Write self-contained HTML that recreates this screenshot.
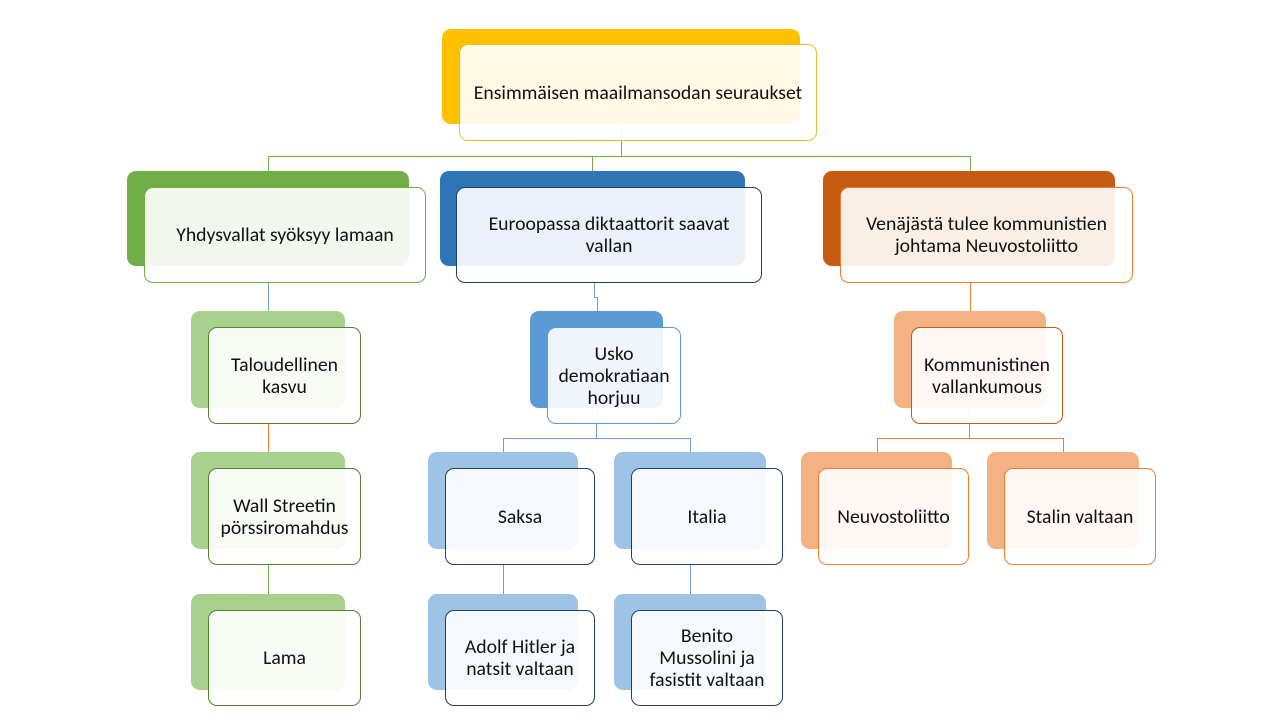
<!DOCTYPE html>
<html><head><meta charset="utf-8"><style>
body{margin:0;width:1280px;height:720px;background:#fff;position:relative;overflow:hidden;font-family:Calibri,Carlito,"Liberation Sans",sans-serif;}
.b{position:absolute;border-radius:9px;}
.f{position:absolute;border-radius:9px;background:rgba(255,255,255,0.9);border:1px solid;box-sizing:border-box;display:flex;align-items:center;justify-content:center;text-align:center;font-size:19.7px;line-height:22px;color:#111;padding:0 20px;}
.l{position:absolute;}
</style></head><body>
<div class="l" style="left:621px;top:124px;width:1px;height:32px;background:#70AD47"></div>
<div class="l" style="left:268px;top:156px;width:703px;height:1px;background:#70AD47"></div>
<div class="l" style="left:268px;top:156px;width:1px;height:16px;background:#70AD47"></div>
<div class="l" style="left:592px;top:156px;width:1px;height:16px;background:#70AD47"></div>
<div class="l" style="left:970px;top:156px;width:1px;height:16px;background:#70AD47"></div>
<div class="l" style="left:268px;top:283px;width:1px;height:30px;background:#6a9fd0"></div>
<div class="l" style="left:268px;top:424px;width:1px;height:30px;background:#ED7D31"></div>
<div class="l" style="left:268px;top:565px;width:1px;height:30px;background:#70AD47"></div>
<div class="l" style="left:594px;top:283px;width:1px;height:14px;background:#6a9fd0"></div>
<div class="l" style="left:594px;top:297px;width:3px;height:1px;background:#6a9fd0"></div>
<div class="l" style="left:597px;top:297px;width:1px;height:16px;background:#6a9fd0"></div>
<div class="l" style="left:596px;top:408px;width:1px;height:30px;background:#6a9fd0"></div>
<div class="l" style="left:503px;top:438px;width:188px;height:1px;background:#6a9fd0"></div>
<div class="l" style="left:503px;top:438px;width:1px;height:16px;background:#6a9fd0"></div>
<div class="l" style="left:690px;top:438px;width:1px;height:16px;background:#6a9fd0"></div>
<div class="l" style="left:503px;top:565px;width:1px;height:30px;background:#6a9fd0"></div>
<div class="l" style="left:690px;top:565px;width:1px;height:30px;background:#6a9fd0"></div>
<div class="l" style="left:970px;top:283px;width:1px;height:30px;background:#ED7D31"></div>
<div class="l" style="left:969px;top:408px;width:1px;height:30px;background:#ED7D31"></div>
<div class="l" style="left:877px;top:438px;width:187px;height:1px;background:#ED7D31"></div>
<div class="l" style="left:877px;top:438px;width:1px;height:16px;background:#ED7D31"></div>
<div class="l" style="left:1063px;top:438px;width:1px;height:16px;background:#ED7D31"></div>

<div class="b" style="left:442px;top:29px;width:358px;height:95px;background:#FFC000"></div>
<div class="f" style="left:459px;top:44px;width:358px;height:97px;border-color:#E0C030;padding:0 4px">Ensimmäisen maailmansodan seuraukset</div>

<div class="b" style="left:127px;top:171px;width:282px;height:95px;background:#70AD47"></div>
<div class="f" style="left:144px;top:187px;width:282px;height:96px;border-color:#70AD47">Yhdysvallat syöksyy lamaan</div>
<div class="b" style="left:440px;top:171px;width:305px;height:95px;background:#2E75B6"></div>
<div class="f" style="left:456px;top:187px;width:306px;height:96px;border-color:#1F3F66;padding:0 20px">Euroopassa diktaattorit saavat<br>vallan</div>
<div class="b" style="left:823px;top:171px;width:292px;height:95px;background:#C55A11"></div>
<div class="f" style="left:840px;top:187px;width:293px;height:96px;border-color:#ED7D31;padding:0 6px">Venäjästä tulee kommunistien<br>johtama Neuvostoliitto</div>

<div class="b" style="left:191px;top:311px;width:154px;height:97px;background:#A9D18E"></div>
<div class="f" style="left:208px;top:327px;width:153px;height:97px;border-color:#548235;padding:0 4px">Taloudellinen<br>kasvu</div>
<div class="b" style="left:530px;top:311px;width:133px;height:97px;background:#5B9BD5"></div>
<div class="f" style="left:547px;top:327px;width:134px;height:97px;border-color:#5B9BD5;padding:0 2px">Usko<br>demokratiaan<br>horjuu</div>
<div class="b" style="left:894px;top:311px;width:152px;height:97px;background:#F4B183"></div>
<div class="f" style="left:911px;top:327px;width:152px;height:97px;border-color:#C55A11;padding:0 2px">Kommunistinen<br>vallankumous</div>

<div class="b" style="left:191px;top:452px;width:154px;height:97px;background:#A9D18E"></div>
<div class="f" style="left:208px;top:468px;width:153px;height:97px;border-color:#548235;padding:0 2px">Wall Streetin<br>pörssiromahdus</div>
<div class="b" style="left:428px;top:452px;width:150px;height:97px;background:#9DC3E6"></div>
<div class="f" style="left:445px;top:468px;width:150px;height:97px;border-color:#1F3F66">Saksa</div>
<div class="b" style="left:614px;top:452px;width:152px;height:97px;background:#9DC3E6"></div>
<div class="f" style="left:631px;top:468px;width:152px;height:97px;border-color:#1F3F66">Italia</div>
<div class="b" style="left:801px;top:452px;width:151px;height:97px;background:#F4B183"></div>
<div class="f" style="left:818px;top:468px;width:151px;height:97px;border-color:#ED7D31;padding:0 2px">Neuvostoliitto</div>
<div class="b" style="left:987px;top:452px;width:152px;height:97px;background:#F4B183"></div>
<div class="f" style="left:1004px;top:468px;width:152px;height:97px;border-color:#ED7D31;padding:0 2px">Stalin valtaan</div>

<div class="b" style="left:191px;top:594px;width:154px;height:96px;background:#A9D18E"></div>
<div class="f" style="left:208px;top:610px;width:153px;height:96px;border-color:#548235">Lama</div>
<div class="b" style="left:428px;top:594px;width:150px;height:96px;background:#9DC3E6"></div>
<div class="f" style="left:445px;top:610px;width:150px;height:96px;border-color:#1F3F66;padding:0 2px">Adolf Hitler ja<br>natsit valtaan</div>
<div class="b" style="left:614px;top:594px;width:152px;height:96px;background:#9DC3E6"></div>
<div class="f" style="left:631px;top:610px;width:152px;height:96px;border-color:#1F3F66;padding:0 2px">Benito<br>Mussolini ja<br>fasistit valtaan</div>
</body></html>
